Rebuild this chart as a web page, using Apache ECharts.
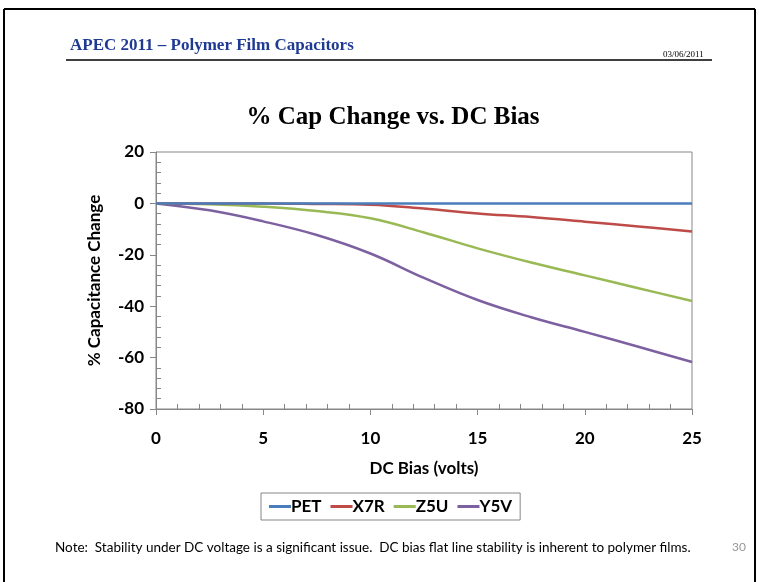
<!DOCTYPE html>
<html>
<head>
  <meta charset="UTF-8">
  <title>% Cap Change vs. DC Bias</title>
  <script src="https://cdn.jsdelivr.net/npm/echarts@6/dist/echarts.min.js"></script>
  <style>
    html, body { margin: 0; padding: 0; background: #fff; }
    #chart { width: 759px; height: 582px; }
  </style>
</head>
<body>
  <div id="chart"></div>
  <script>
    // DC bias in volts
    var biasVolts = [0, 2.5, 5, 7.5, 10, 12.5, 15, 17.5, 20, 22.5, 25];
    // % capacitance change per dielectric
    var petValues = [0, 0, 0, 0, 0, 0, 0, 0, 0, 0, 0];
    var x7rValues = [0, 0, 0, -0.2, -0.5, -2, -3.9, -5.3, -7.1, -9, -10.9];
    var z5uValues = [0, -0.3, -1.3, -3, -5.8, -11.3, -17.5, -23, -28, -33, -38];
    var y5vValues = [0, -2.7, -7, -12.3, -19.5, -29, -37.6, -44.3, -50, -55.8, -61.7];
    var seriesNames = ['PET', 'X7R', 'Z5U', 'Y5V'];
    var seriesColors = ['#4a7ebb', '#be4b48', '#98b954', '#7d60a0'];

    function pairs(ys) {
      return biasVolts.map(function (x, i) { return [x, ys[i]]; });
    }

    var allValues = [petValues, x7rValues, z5uValues, y5vValues];
    var series = seriesNames.map(function (name, i) {
      return {
        name: name,
        type: 'line',
        data: pairs(allValues[i]),
        smooth: 0.4,
        showSymbol: false,
        lineStyle: { width: 2.5, color: seriesColors[i] },
        itemStyle: { color: seriesColors[i] },
        z: 10 - i
      };
    });

    var chart = echarts.init(document.getElementById('chart'));
    var labelFont = 'Lato, "Open Sans", sans-serif';
    chart.setOption({
      animation: false,
      title: {
        text: '% Cap Change vs. DC Bias',
        left: 388,
        textAlign: 'center',
        top: 100,
        textStyle: {
          fontFamily: '"Liberation Serif", serif',
          fontSize: 25,
          fontWeight: 'bold',
          color: '#000'
        }
      },
      legend: {
        data: seriesNames,
        left: 261,
        top: 493,
        padding: [5, 8, 5, 8],
        borderColor: '#868686',
        borderWidth: 1,
        itemGap: 9,
        itemWidth: 22,
        itemHeight: 3,
        icon: 'rect',
        textStyle: { fontFamily: labelFont, fontSize: 17, fontWeight: 'bold', color: '#000', padding: [0, 0, 0, -5] }
      },
      grid: {
        left: 156,
        right: 67,
        top: 152,
        bottom: 173,
        show: true,
        borderColor: '#868686',
        borderWidth: 1
      },
      xAxis: {
        type: 'value',
        min: 0,
        max: 25,
        interval: 5,
        name: 'DC Bias (volts)',
        nameLocation: 'middle',
        nameGap: 51,
        nameTextStyle: { fontFamily: labelFont, fontSize: 17, fontWeight: 'bold', color: '#000' },
        axisLine: { onZero: false, lineStyle: { color: '#868686', width: 1 } },
        axisTick: { show: true, length: 6, lineStyle: { color: '#868686' } },
        minorTick: { show: true, splitNumber: 5, length: -5, lineStyle: { color: '#868686' } },
        splitLine: { show: false },
        axisLabel: { margin: 21, fontFamily: labelFont, fontSize: 17, fontWeight: 'bold', color: '#000' }
      },
      yAxis: {
        type: 'value',
        min: -80,
        max: 20,
        interval: 20,
        name: '% Capacitance Change',
        nameLocation: 'middle',
        nameGap: 53,
        nameTextStyle: { fontFamily: labelFont, fontSize: 17, fontWeight: 'bold', color: '#000' },
        axisLine: { show: true, lineStyle: { color: '#868686', width: 1 } },
        axisTick: { show: true, length: 6, lineStyle: { color: '#868686' } },
        minorTick: { show: true, splitNumber: 5, length: -5, lineStyle: { color: '#868686' } },
        splitLine: { show: false },
        axisLabel: { margin: 12, fontFamily: labelFont, fontSize: 17, fontWeight: 'bold', color: '#000' }
      },
      graphic: [
        // slide border
        { type: 'line', shape: { x1: 4, y1: 9, x2: 755, y2: 9 }, style: { stroke: '#000', lineWidth: 2 } },
        { type: 'line', shape: { x1: 4, y1: 9, x2: 4, y2: 582 }, style: { stroke: '#000', lineWidth: 2 } },
        { type: 'line', shape: { x1: 755, y1: 9, x2: 755, y2: 582 }, style: { stroke: '#000', lineWidth: 2 } },
        // header
        {
          type: 'text', left: 70, top: 37,
          style: { text: 'APEC 2011 \u2013 Polymer Film Capacitors', fontFamily: '"Liberation Serif", serif', fontSize: 17, fontWeight: 'bold', fill: '#1f3a93' }
        },
        {
          type: 'text', left: 663, top: 50,
          style: { text: '03/06/2011', fontFamily: '"Liberation Serif", serif', fontSize: 9, fill: '#000' }
        },
        { type: 'line', shape: { x1: 66, y1: 60, x2: 712, y2: 60 }, style: { stroke: '#000', lineWidth: 1.5 } },
        // footer
        {
          type: 'text', left: 55, top: 541,
          style: { text: 'Note:  Stability under DC voltage is a significant issue.  DC bias flat line stability is inherent to polymer films.', fontFamily: labelFont, fontSize: 13.5, fill: '#000' }
        },
        {
          type: 'text', left: 732, top: 541,
          style: { text: '30', fontFamily: labelFont, fontSize: 12, fill: '#999' }
        }
      ],
      series: series
    });
  </script>
</body>
</html>
